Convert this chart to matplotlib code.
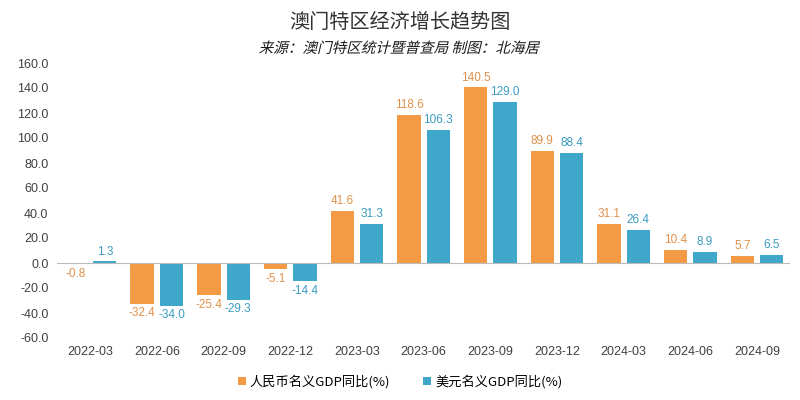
import matplotlib
matplotlib.use("Agg")
import matplotlib.pyplot as plt
import numpy as np
from matplotlib.textpath import TextPath
from matplotlib.patches import PathPatch
from matplotlib.font_manager import FontProperties
from matplotlib.transforms import Affine2D

plt.rcParams['font.family'] = ['Noto Sans CJK SC', 'DejaVu Sans']

# data
quarters = ['2022-03', '2022-06', '2022-09', '2022-12', '2023-03', '2023-06',
            '2023-09', '2023-12', '2024-03', '2024-06', '2024-09']
rmb_yoy = [-0.8, -32.4, -25.4, -5.1, 41.6, 118.6, 140.5, 89.9, 31.1, 10.4, 5.7]
usd_yoy = [1.3, -34.0, -29.3, -14.4, 31.3, 106.3, 129.0, 88.4, 26.4, 8.9, 6.5]
yticks = [-60, -40, -20, 0, 20, 40, 60, 80, 100, 120, 140, 160]

orange = '#F39A45'
blue = '#3FA7CA'

fig = plt.figure(figsize=(8, 4), dpi=100)
ax = fig.add_axes([0.071, 0.155, 0.917, 0.6875])

x = np.arange(len(quarters))
w = 0.35
off = 0.22
b1 = ax.bar(x - off, rmb_yoy, w, color=orange, label='人民币名义GDP同比(%)')
b2 = ax.bar(x + off, usd_yoy, w, color=blue, label='美元名义GDP同比(%)')

for xs, vals, col in [(x - off, rmb_yoy, '#E0904A'), (x + off, usd_yoy, '#3A9CC0')]:
    for xi, v in zip(xs, vals):
        if v >= 0:
            ax.text(xi, v + 3, '%.1f' % v, ha='center', va='bottom', fontsize=8.5,
                    color=col, family='Liberation Sans')
        else:
            ax.text(xi, v - 3, '%.1f' % v, ha='center', va='top', fontsize=8.5,
                    color=col, family='Liberation Sans')

ax.axhline(0, color='#BBBBBB', lw=0.8)
ax.set_xlim(-0.5, len(quarters) - 0.5)
ax.set_ylim(-60, 160)
ax.set_yticks(yticks)
ax.set_yticklabels(['%.1f' % t for t in yticks], family='Liberation Sans',
                   fontsize=9, color='#404040')
ax.set_xticks(x)
ax.set_xticklabels(quarters, family='Liberation Sans', fontsize=9, color='#404040')
ax.tick_params(axis='both', length=0, pad=6)
for s in ax.spines.values():
    s.set_visible(False)

fig.text(0.5, 0.945, '澳门特区经济增长趋势图', ha='center', va='center',
         fontsize=14.5, color='#333333')

# subtitle is slanted in the original; CJK font has no italic so skew the glyph path
sub = '来源：澳门特区统计暨普查局 制图：北海居'
tp = TextPath((0, 0), sub, size=10.5, prop=FontProperties(family='Noto Sans CJK SC'))
bb = tp.get_extents()
tr = (Affine2D().translate(-(bb.x0 + bb.x1) / 2, -(bb.y0 + bb.y1) / 2)
      .skew_deg(14, 0).scale(1 / 72.0).translate(4.0, 4 * 0.882) + fig.dpi_scale_trans)
fig.add_artist(PathPatch(tp, transform=tr, color='#1a1a1a', lw=0))

fig.legend(handles=[b1, b2], loc='center', bbox_to_anchor=(0.5, 0.045), ncol=2,
           frameon=False, fontsize=9.5, handlelength=0.6, handleheight=0.6,
           handletextpad=0.3, columnspacing=2.5)

fig.savefig('out.png', dpi=100, facecolor='white')
